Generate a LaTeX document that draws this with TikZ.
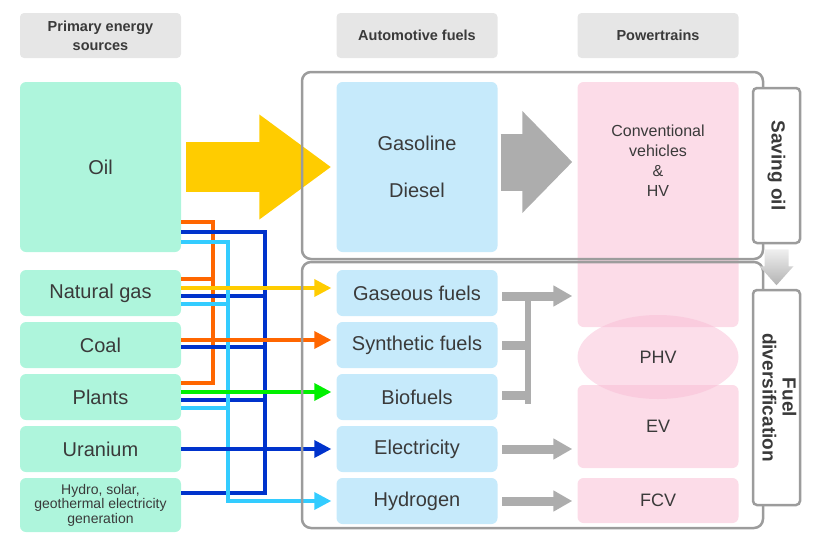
\documentclass[tikz,border=0pt]{standalone}
\usepackage{fontspec}
\setmainfont{Liberation Sans}
\usepackage{tikz}
\usetikzlibrary{shapes.geometric, arrows.meta, positioning}

\definecolor{srcgreen}{HTML}{AEF5DC}
\definecolor{fuelblue}{HTML}{C6EAFB}
\definecolor{ptpink}{HTML}{FCDCE8}
\definecolor{phvpink}{HTML}{F9BDD6}
\definecolor{headgray}{HTML}{E6E6E6}
\definecolor{framegray}{HTML}{9C9C9C}
\definecolor{arrgray}{HTML}{ADADAD}
\definecolor{txt}{HTML}{3A3A3A}
\definecolor{oilyellow}{HTML}{FFCC00}
\definecolor{lorange}{HTML}{FF6600}
\definecolor{lblue}{HTML}{0033CC}
\definecolor{lcyan}{HTML}{33CCFF}
\definecolor{lgreen}{HTML}{00F000}

\begin{document}
\begin{tikzpicture}[
  x=1pt, y=-1pt,
  head/.style={fill=headgray, rounded corners=4pt, minimum width=161pt, minimum height=45pt, inner sep=0pt, align=center, text=txt, font=\bfseries\fontsize{14.5}{19}\selectfont},
  src/.style={fill=srcgreen, rounded corners=6pt, minimum width=161pt, minimum height=46pt, inner sep=0pt, align=center, text=txt, font=\fontsize{20}{24}\selectfont},
  fuel/.style={src, fill=fuelblue},
  ptbox/.style={src, fill=ptpink, font=\fontsize{18}{22}\selectfont},
  frame/.style={draw=framegray, line width=2.5pt, rounded corners=9pt, inner sep=0pt},
  tag/.style={draw=framegray, fill=white, line width=2.5pt, rounded corners=4pt, minimum width=47pt, inner sep=0pt, text=txt, font=\bfseries\fontsize{19}{20}\selectfont, align=center},
  tip/.style={-{Triangle[length=17pt,width=17pt]}, shorten >=5pt},
  cline/.style={line width=3.5pt, line join=miter},
  garr/.style={arrgray, line width=9pt, -{Triangle[length=19pt,width=20pt]}},
  gbar/.style={arrgray, line width=9pt}
]
  \useasboundingbox (0,0) rectangle (816,541);

  % Column headers
  \node[head] (hsrc) at (100.5,35.5) {Primary energy\\sources};
  \node[head] (hfuel) at (417,35.5) {Automotive fuels};
  \node[head] (hpt) at (658,35.5) {Powertrains};

  % Primary energy sources
  \node[src, minimum height=170pt] (oil) at (100.5,167) {Oil};
  \node[src] (ng) at (100.5,293) {Natural gas};
  \node[src] (coal) at (100.5,345) {Coal};
  \node[src] (plants) at (100.5,397) {Plants};
  \node[src] (uran) at (100.5,449) {Uranium};
  \node[src, minimum height=54pt, font=\fontsize{14}{14.5}\selectfont] (hydro) at (100.5,505) {Hydro, solar,\\geothermal electricity\\generation};

  % Automotive fuels
  \node[fuel, minimum height=170pt] (gd) at (417,167) {Gasoline\\[23pt]Diesel};
  \node[fuel] (gas) at (417,293) {Gaseous fuels};
  \node[fuel] (syn) at (417,345) {Synthetic fuels};
  \node[fuel] (bio) at (417,397) {Biofuels};
  \node[fuel] (elec) at (417,449) {Electricity};
  \node[fuel] (h2) at (417,501) {Hydrogen};

  % Powertrains
  \node[ptbox, minimum height=245pt,
    label={[anchor=north, yshift=-40pt, align=center, text=txt, font=\fontsize{16}{20}\selectfont]north:Conventional\\vehicles\\\&\\HV}] (conv) at (658,204.5) {};
  \node[ptbox, minimum height=83pt] (ev) at (658,426.5) {EV};
  \node[ptbox, minimum height=45pt] (fcv) at (658,500.5) {FCV};
  \node[ellipse, fill=phvpink, fill opacity=0.5, text opacity=1, minimum width=161pt, minimum height=84pt, inner sep=0pt, text=txt, font=\fontsize{18}{22}\selectfont] (phv) at (658,357) {PHV};

  % Big arrows
  \draw[oilyellow, line width=50pt, -{Triangle[length=72pt,width=100pt]}, shorten <=5pt, shorten >=5pt] (oil) -- (gd);
  \draw[arrgray, line width=57pt, -{Triangle[length=50pt,width=99pt]}, shorten <=3pt, shorten >=5pt] ([yshift=5pt]gd.east) -- ([yshift=5pt]gd.east -| conv.west);

  % Buses from the sources
  \draw[cline, lorange] ([yshift=30pt]oil.south east) -- ++(32,0) |- ([yshift=14pt]plants.east);
  \draw[cline, lorange] ([yshift=14pt]ng.east) -- ++(32,0);
  \draw[cline, lblue] ([yshift=20pt]oil.south east) -- ++(84,0) |- ([yshift=12pt]hydro.east);
  \draw[cline, lblue] ([yshift=-3pt]ng.east) -- ++(84,0);
  \draw[cline, lblue] ([yshift=-2pt]coal.east) -- ++(84,0);
  \draw[cline, lblue] ([yshift=-3pt]plants.east) -- ++(84,0);
  \draw[cline, lcyan] ([yshift=-11pt]ng.east) -- ++(47,0);
  \draw[cline, lcyan] ([yshift=-11pt]plants.east) -- ++(47,0);
  \draw[cline, lcyan, tip] ([yshift=10pt]oil.south east) -- ++(47,0) |- (h2.west);

  % Arrows into the fuels
  \draw[cline, oilyellow, tip] ([yshift=5pt]ng.east) -- ([yshift=5pt]gas.west);
  \draw[cline, lorange, tip] ([yshift=5pt]coal.east) -- ([yshift=5pt]syn.west);
  \draw[cline, lgreen, tip] ([yshift=5pt]plants.east) -- ([yshift=5pt]bio.west);
  \draw[cline, lblue, tip] (uran.east) -- (elec.west);

  % Fuels to powertrains
  \draw[gbar, shorten <=4.5pt] (syn.east) -- ++(33,0);
  \draw[gbar, shorten <=4.5pt] ([yshift=2pt]bio.east) -- ++(33,0);
  \draw[arrgray, line width=6pt] ([xshift=30pt,yshift=-3pt]gas.east) -- ([xshift=30pt,yshift=-6.5pt]bio.east);
  \draw[garr, shorten <=4.5pt, shorten >=5pt] ([yshift=-3pt]gas.east) -- ([yshift=-3pt]gas.east -| conv.west);
  \draw[garr, shorten <=4.5pt, shorten >=5pt] (elec.east) -- (elec.east -| ev.west);
  \draw[garr, shorten <=4.5pt, shorten >=5pt] (h2.east) -- (h2.east -| fcv.west);

  % Frames
  \node[frame, minimum width=461pt, minimum height=187pt] (oilframe) at (532.5,165.5) {};
  \node[frame, minimum width=461pt, minimum height=266pt] (divframe) at (532.5,395) {};

  % Side tags
  \node[tag, minimum height=155pt] (saving) at (776.5,165.5) {\rotatebox{-90}{Saving oil}};
  \node[tag, minimum height=215pt] (fdiv) at (776.5,397.5) {\rotatebox{-90}{\begin{tabular}{@{}c@{}}Fuel\\diversification\end{tabular}}};
  \shade[top color=gray!12, bottom color=gray!60] ([xshift=-12pt,yshift=-5pt]saving.south) -- ++(24,0) -- ++(0,17) -- ++(5,0) -- ++(-17,19) -- ++(-17,-19) -- ++(5,0) -- cycle;

\end{tikzpicture}
\end{document}
